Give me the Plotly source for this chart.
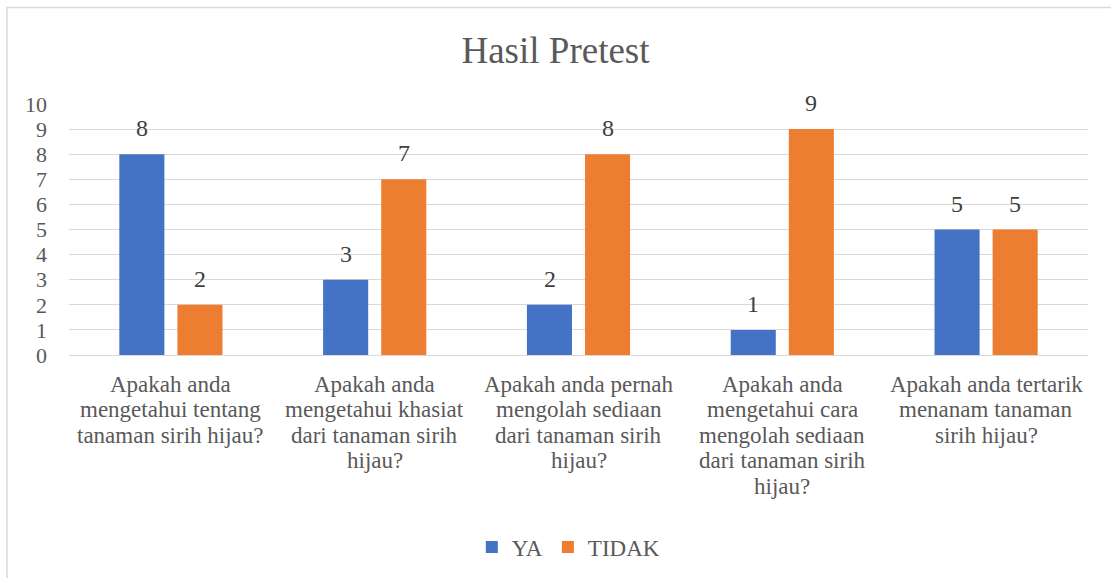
import plotly.graph_objects as go

categories = [
    "Apakah anda<br>mengetahui tentang<br>tanaman sirih hijau?",
    "Apakah anda<br>mengetahui khasiat<br>dari tanaman sirih<br>hijau?",
    "Apakah anda pernah<br>mengolah sediaan<br>dari tanaman sirih<br>hijau?",
    "Apakah anda<br>mengetahui cara<br>mengolah sediaan<br>dari tanaman sirih<br>hijau?",
    "Apakah anda tertarik<br>menanam tanaman<br>sirih hijau?",
]
ya = [8, 3, 2, 1, 5]
tidak = [2, 7, 8, 9, 5]
y_ticks = list(range(0, 11))

FONT = "Liberation Serif"
TXT = "#595959"
VAL = "#404040"

fig = go.Figure()
fig.add_trace(go.Bar(name="YA", x=categories, y=ya, marker_color="#4472C4",
                     marker_line_width=0))
fig.add_trace(go.Bar(name="TIDAK", x=categories, y=tidak, marker_color="#ED7D31",
                     marker_line_width=0))

annotations = []
# value labels above bars
for series, shift in ((ya, -29), (tidak, 29)):
    for cat, v in zip(categories, series):
        annotations.append(dict(x=cat, y=v, xref="x", yref="y", text=str(v),
                                showarrow=False, xshift=shift, yshift=26,
                                yanchor="middle", xanchor="center",
                                font=dict(family=FONT, size=24, color=VAL)))
# category labels, one annotation per line for tight line spacing
for cat in categories:
    for j, line in enumerate(cat.split("<br>")):
        annotations.append(dict(x=cat, y=0, xref="x", yref="paper", text=line,
                                showarrow=False, yanchor="middle", xanchor="center",
                                yshift=-(29 + j * 25.5),
                                font=dict(family=FONT, size=23, color=TXT)))

fig.update_layout(
    width=1111, height=578,
    margin=dict(l=69, r=23, t=104, b=222),
    paper_bgcolor="white", plot_bgcolor="white",
    font=dict(family=FONT, color=TXT),
    title=dict(text="Hasil Pretest", x=0.5, xanchor="center", y=1 - 50 / 578, yanchor="middle",
               font=dict(size=37, color=TXT, family=FONT)),
    barmode="group", bargap=0.43, bargroupgap=0.224,
    showlegend=True,
    legend=dict(orientation="h", x=0.49, xanchor="center", y=-(547 - 356) / 252, yanchor="middle",
                font=dict(size=23, color=TXT, family=FONT), traceorder="normal",
                itemwidth=30),
    annotations=annotations,
)
fig.update_yaxes(range=[0, 10], tickvals=y_ticks, showgrid=True, gridcolor="#D9D9D9",
                 gridwidth=1.3, zeroline=False, showline=False,
                 tickfont=dict(size=22, color=TXT, family=FONT), ticks="", ticklen=0,
                 ticklabelstandoff=21)
fig.update_xaxes(showline=True, linecolor="#D9D9D9", linewidth=1.3,
                 showticklabels=False, ticks="")
fig.add_shape(type="rect", xref="paper", yref="paper",
              x0=(7 - 69) / 1019, x1=(1120 - 69) / 1019,
              y0=(356 - 590) / 252, y1=1 + (104 - 7) / 252,
              line=dict(color="#D9D9D9", width=1.5), fillcolor="rgba(0,0,0,0)", layer="below")
fig.write_html("out.html", config={"displayModeBar": False},
               post_script="document.body.style.margin='0';")
